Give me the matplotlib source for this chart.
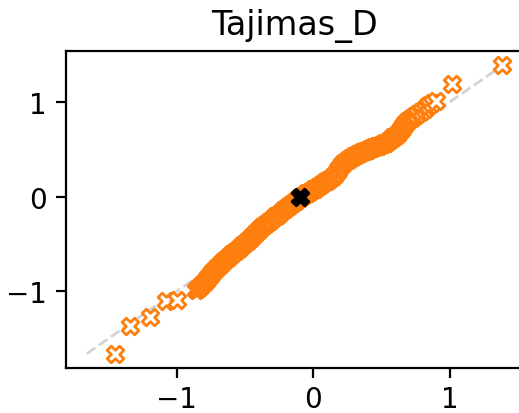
import numpy as np
import matplotlib
matplotlib.use("Agg")
import matplotlib.pyplot as plt

# quantile pairs, sorted (x: expected, y: observed)
qx = [-1.45, -1.34, -1.20, -1.08, -1.00,
      -0.86, -0.85, -0.84, -0.83, -0.82, -0.81, -0.80, -0.79, -0.78, -0.77,
      -0.76, -0.75, -0.74, -0.73, -0.72, -0.71, -0.70, -0.69, -0.68, -0.67,
      -0.66, -0.65, -0.64, -0.63, -0.62, -0.61, -0.60, -0.59, -0.58, -0.57,
      -0.56, -0.55, -0.54, -0.53, -0.52, -0.51, -0.50, -0.49, -0.48, -0.47,
      -0.46, -0.45, -0.44, -0.43, -0.42, -0.41, -0.40, -0.39, -0.38, -0.37,
      -0.36, -0.35, -0.34, -0.33, -0.32, -0.31, -0.30, -0.29, -0.28, -0.27,
      -0.26, -0.25, -0.24, -0.23, -0.22, -0.21, -0.20, -0.19, -0.18, -0.17,
      -0.16, -0.15, -0.14, -0.13, -0.12, -0.11, -0.10, -0.09, -0.08, -0.07,
      -0.06, -0.05, -0.04, -0.03, -0.02, -0.01, 0.00, 0.01, 0.02, 0.03,
      0.04, 0.05, 0.06, 0.07, 0.08, 0.09, 0.10, 0.11, 0.12, 0.13,
      0.14, 0.15, 0.16, 0.17, 0.18, 0.19, 0.20, 0.21, 0.22, 0.23,
      0.24, 0.25, 0.26, 0.27, 0.28, 0.29, 0.30, 0.31, 0.32, 0.33,
      0.34, 0.35, 0.36, 0.37, 0.38, 0.39, 0.40, 0.41, 0.42, 0.43,
      0.44, 0.45, 0.46, 0.47, 0.48, 0.49, 0.50, 0.51, 0.52, 0.53,
      0.54, 0.55, 0.56, 0.57, 0.58, 0.59, 0.60, 0.61, 0.62, 0.63,
      0.635, 0.64, 0.645, 0.65, 0.655, 0.66, 0.665, 0.67, 0.675, 0.68,
      0.69, 0.70, 0.71, 0.72, 0.73, 0.74, 0.75, 0.76,
      0.78, 0.80, 0.82, 0.83, 0.85, 0.87, 0.90,
      1.02, 1.38]
qy = [-1.66, -1.37, -1.27, -1.10, -1.09,
      -0.99, -0.98, -0.965, -0.95, -0.94, -0.92, -0.905, -0.89, -0.87, -0.855,
      -0.835, -0.82, -0.80, -0.785, -0.77, -0.75, -0.74, -0.725, -0.71, -0.70,
      -0.685, -0.67, -0.66, -0.645, -0.635, -0.62, -0.61, -0.595, -0.585, -0.575,
      -0.56, -0.55, -0.54, -0.525, -0.515, -0.505, -0.49, -0.48, -0.465, -0.45,
      -0.435, -0.425, -0.41, -0.395, -0.38, -0.365, -0.35, -0.34, -0.325, -0.31,
      -0.30, -0.29, -0.275, -0.265, -0.255, -0.245, -0.235, -0.22, -0.21, -0.20,
      -0.19, -0.18, -0.165, -0.155, -0.145, -0.135, -0.125, -0.11, -0.10, -0.09,
      -0.08, -0.065, -0.055, -0.045, -0.035, -0.02, -0.01, 0.00, 0.005, 0.015,
      0.025, 0.035, 0.04, 0.05, 0.06, 0.07, 0.075, 0.085, 0.095, 0.10,
      0.11, 0.12, 0.13, 0.14, 0.15, 0.16, 0.17, 0.18, 0.19, 0.20,
      0.21, 0.22, 0.24, 0.26, 0.28, 0.30, 0.32, 0.34, 0.36, 0.37,
      0.38, 0.385, 0.395, 0.405, 0.415, 0.425, 0.43, 0.44, 0.45, 0.455,
      0.46, 0.47, 0.475, 0.48, 0.485, 0.49, 0.495, 0.50, 0.51, 0.515,
      0.52, 0.525, 0.53, 0.535, 0.54, 0.55, 0.555, 0.56, 0.565, 0.57,
      0.58, 0.59, 0.60, 0.61, 0.625, 0.635, 0.645, 0.655, 0.67, 0.68,
      0.69, 0.70, 0.71, 0.725, 0.735, 0.745, 0.755, 0.77, 0.78, 0.79,
      0.80, 0.81, 0.82, 0.83, 0.84, 0.85, 0.86, 0.87,
      0.89, 0.91, 0.93, 0.96, 0.97, 0.99, 1.01,
      1.19, 1.39]

# summary point drawn on top
mean_x = -0.10
mean_y = 0.00

title = "Tajimas_D"

fig = plt.figure(figsize=(2.595, 2.07), dpi=200)
ax = fig.add_axes([0.1272, 0.1087, 0.882, 0.7664])

lo = min(min(qx), min(qy))
hi = max(max(qx), max(qy))
ax.plot([lo, hi], [lo, hi], ls="--", color="lightgray", lw=1, zorder=1)

ax.scatter(qx, qy, marker="X", s=36, facecolor="white",
           edgecolor="tab:orange", linewidth=1, zorder=2)
ax.scatter([mean_x], [mean_y], marker="X", s=36, color="black", zorder=3)

ax.tick_params(axis="x", pad=2.5)
ax.set_title(title)

fig.savefig("out.png", dpi=200)
